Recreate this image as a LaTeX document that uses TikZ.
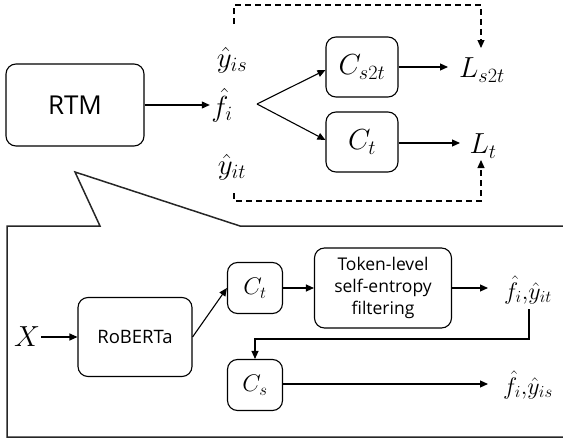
\RequirePackage{fix-cm}
\documentclass[tikz,border=0pt]{standalone}
\usepackage{fontspec}
\setmainfont{Open Sans}
\usetikzlibrary{arrows.meta}
\begin{document}
\begin{tikzpicture}[x=1pt,y=-1pt, line width=1.1pt,
  box/.style={draw, rounded corners=10pt, inner sep=0pt, align=center},
  arr/.style={-{Triangle[length=8pt,width=7pt]}},
  dsh/.style={dashed, dash pattern=on 6pt off 4pt},
  bigm/.style={font=\fontsize{29}{32}\selectfont, inner sep=1pt},
  midm/.style={font=\fontsize{24}{28}\selectfont, inner sep=1pt},
  lbl/.style={font=\fontsize{17.5}{23}\selectfont}]
\useasboundingbox (0,0) rectangle (563,439);

% top part
\node[box, minimum width=138pt, minimum height=82pt, font=\fontsize{26}{30}\selectfont] (rtm) at (75,105) {RTM};
\node[bigm] (fi) at (222,105) {$\hat f_i$};
\node[bigm] (yis) at (232,60) {$\hat y_{is}$};
\node[bigm] (yit) at (232,167) {$\hat y_{it}$};
\node[box, minimum width=72pt, minimum height=60pt, bigm, inner sep=0pt] (cs2t) at (362,67) {$C_{s2t}$};
\node[box, minimum width=72pt, minimum height=60pt, bigm, inner sep=0pt] (ct) at (362,142) {$C_t$};
\node[bigm] (ls2t) at (482,70) {$L_{s2t}$};
\node[bigm] (lt) at (483,146) {$L_t$};

\coordinate (br) at (257,104);
\coordinate (dtl) at (234,24);
\coordinate (dbl) at (234,193);
\coordinate (dtr) at (481,48);
\coordinate (dbr) at (481,160);

\draw[arr] (rtm.east) -- (fi.west);
\draw[arr] (br) -- (cs2t.west |- 0,70);
\draw[arr] (br) -- (ct.west |- 0,140);
\draw[arr] (cs2t.east) -- (448,67);
\draw[arr] (ct.east |- 0,143) -- (460,143);
\draw[dsh, arr] (dtl) -- (234,5) -- (481,5) -- (dtr);
\draw[dsh, arr] (dbl) -- (234,201) -- (481,201) -- (dbr);

% callout
\draw[line width=1.5pt, draw=black!85] (570,226) -- (240,226) -- (75,172) -- (100,226) -- (7,226) -- (7,437) -- (570,437);

% inner part
\node[bigm] (x) at (27,337) {$X$};
\node[box, minimum width=114pt, minimum height=79pt, font=\fontsize{18.5}{23}\selectfont] (rob) at (135,337) {RoBERTa};
\node[box, minimum width=55pt, minimum height=51pt, midm, inner sep=0pt] (ct2) at (255,288) {$C_t$};
\node[box, minimum width=55pt, minimum height=51pt, midm, inner sep=0pt] (cs) at (255,385) {$C_s$};
\node[box, minimum width=137pt, minimum height=80pt, lbl] (tok) at (383,288) {Token-level\\[-1pt]self-entropy\\[-1pt]filtering};
\node[midm] (o1) at (528,290) {$\hat f_i,\!\hat y_{it}$};
\node[midm] (o2) at (528,385) {$\hat f_i,\!\hat y_{is}$};
\coordinate (o1b) at (529,309);

\draw[arr] (x.east) -- (rob.west);
\draw[arr] (rob.east) -- (ct2.west);
\draw[arr] (ct2.east) -- (tok.west);
\draw[arr] (tok.east) -- (488,288);
\draw[arr] (o1b) -- (529,339) -| (cs.north);
\draw[arr] (cs.east |- 0,384) -- (488,384);
\end{tikzpicture}
\end{document}
